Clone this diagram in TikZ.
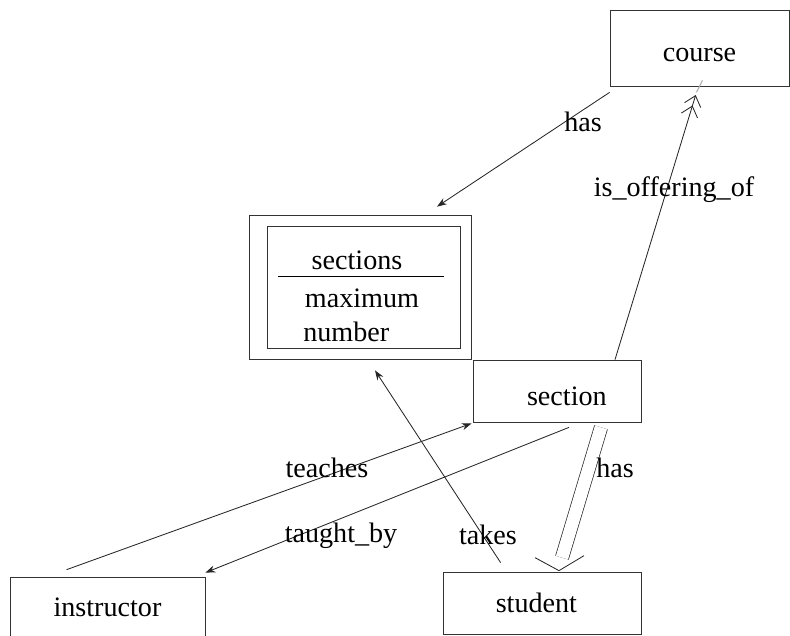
\documentclass[tikz,border=0pt]{standalone}
\usepackage{fontspec}
\setmainfont{Liberation Serif}
\usepackage{tikz}
\usetikzlibrary{arrows.meta, calc, positioning}

\begin{document}
\begin{tikzpicture}[
  x=0.025cm, y=-0.025cm,
  every node/.style={font=\fontsize{20}{24}\selectfont},
  entity/.style={rectangle, draw=black!80, line width=0.5pt, inner sep=0pt},
  rel/.style={draw=black!85, line width=0.6pt, -{Stealth[length=7pt, width=5pt]}},
  lbl/.style={inner sep=1pt}
]
  \useasboundingbox (0,0) rectangle (790,636);

  % entity sets
  \node[entity, minimum width=4.475cm, minimum height=1.9cm, text height=19pt, text depth=0pt] (course) at (699.5,48) {course};
  \node[entity, minimum width=4.2cm, minimum height=1.55cm, text height=21pt, text depth=0pt] (section) at (557,391) {\hspace*{14pt}section};
  \node[entity, minimum width=4.95cm, minimum height=1.55cm] (student) at (542,603) {\hspace*{-8pt}student};
  \node[entity, minimum width=4.875cm, minimum height=1.5cm] (instructor) at (107.5,607) {instructor};

  % weak entity set
  \node[entity, minimum width=5.55cm, minimum height=3.6cm] (secs) at (360,287) {};
  \node[entity, minimum width=4.825cm, minimum height=3.05cm] (secsin) at (363.5,287) {};
  \node (secsname) at (357,260) {sections};
  \coordinate (ruleL) at (278,276);
  \coordinate (ruleR) at (444,276);
  \draw[line width=0.6pt] (ruleL) -- (ruleR);
  \node (secsmax) at (362,298) {maximum};
  \node[anchor=west, inner sep=0pt] (secsnum) at (303,332) {number};

  % relationships
  \draw[rel] ($(course.south west)+(0,6)$) -- ($(secs.north)+(77,-8)$);
  \draw[draw=black!85, line width=0.6pt,
        -{Straight Barb[length=7pt, width=12pt] Straight Barb[length=7pt, width=12pt, sep=2pt]}]
        ($(section.north)+(58,0)$) -- ($(course.south)+(-3,6)$);
  \draw[black!30, line width=0.8pt] ($(course.south)+(-3,6)$) -- ($(course.south)+(3,-6)$);
  \draw[rel] ($(instructor.north west)+(57,-7)$) -- ($(section.south west)+(-1,1)$);
  \draw[rel] ($(section.south)+(12,5)$) -- ($(instructor.north east)+(0,-4)$);
  \draw[rel] ($(student.north west)+(58,-9)$) -- ($(secs.south)+(15,11)$);

  % double line with open head
  \coordinate (hastip) at ($(student.north)+(17,-1)$);
  \draw[draw=black!85, line width=0.5pt, double, double distance=9pt]
        ($(section.south)+(44,5)$) -- ($(hastip)+(3,-13)$);
  \draw[draw=black!85, line width=0.6pt]
        ($(hastip)+(-24,-13)$) -- (hastip) -- ($(hastip)+(25,-15)$);

  % labels
  \node[lbl] (lhas) at (583,122) {has};
  \node[lbl] (loffer) at (674,190) {is\_offering\_of};
  \node[lbl] (lteaches) at (327,468) {teaches};
  \node[lbl] (ltaught) at (341,536) {taught\_by};
  \node[lbl] (ltakes) at (488,535) {takes};
  \node[lbl] (lhas2) at (615,468) {has};
\end{tikzpicture}
\end{document}
